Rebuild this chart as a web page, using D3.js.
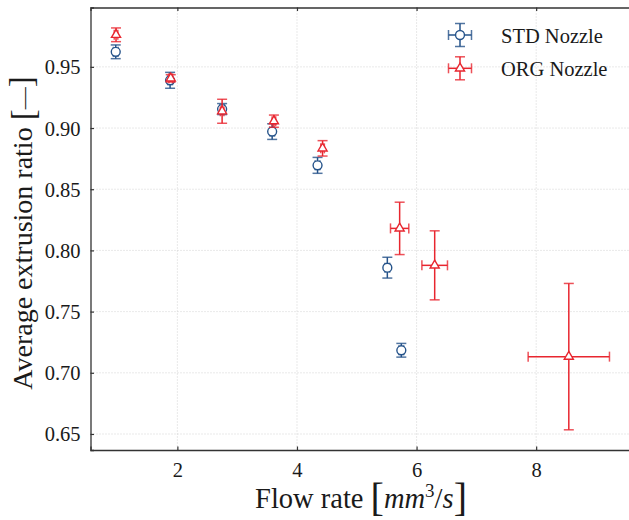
<!DOCTYPE html>
<html>
<head>
<meta charset="utf-8">
<script src="https://cdn.jsdelivr.net/npm/d3@7"></script>
<style>
  html, body { margin: 0; padding: 0; background: #fff; }
  svg { display: block; }
  text { font-family: "Liberation Serif", "DejaVu Serif", serif; fill: #1a1a1a; }
</style>
</head>
<body>
<svg id="chart" width="629" height="520"></svg>
<script>
// ---- data ----
const stdX    = [0.969, 1.878, 2.748, 3.585, 4.344, 5.511, 5.745];
const stdY    = [0.9623, 0.939, 0.9155, 0.8971, 0.8695, 0.7859, 0.7184];
const stdXErr = [0.04, 0.04, 0.04, 0.04, 0.04, 0.04, 0.04];
const stdYErr = [0.0056, 0.0065, 0.0045, 0.0064, 0.0065, 0.0085, 0.0056];

const orgX    = [0.974, 1.889, 2.748, 3.614, 4.428, 5.717, 6.303, 8.546];
const orgY    = [0.9762, 0.9406, 0.9137, 0.9056, 0.8834, 0.818, 0.7878, 0.7132];
const orgXErr = [0.03, 0.03, 0.03, 0.03, 0.03, 0.153, 0.214, 0.68];
const orgYErr = [0.0056, 0.003, 0.0098, 0.005, 0.0063, 0.0214, 0.0282, 0.0598];

const xTicks = [2, 4, 6, 8];
const yTicks = [0.65, 0.70, 0.75, 0.80, 0.85, 0.90, 0.95];
const seriesNames = ["STD Nozzle", "ORG Nozzle"];

// ---- layout ----
const svg = d3.select("#chart");
const L = 90.5, R = 631, T = 7.5, B = 450;
const x = d3.scaleLinear().domain([0.547, 9.586]).range([L, R]);
const y = d3.scaleLinear().domain([0.6369, 0.9985]).range([B, T]);

const blue = "#25538a", red = "#e8262f";
const serif = "'Liberation Serif', 'DejaVu Serif', serif";

// grid
const grid = svg.append("g");
grid.selectAll("line.gx").data(xTicks).join("line")
  .attr("x1", d => x(d)).attr("x2", d => x(d)).attr("y1", T).attr("y2", B)
  .attr("stroke", "#c8c8c8").attr("stroke-width", 0.8).attr("stroke-dasharray", "1,2");
grid.selectAll("line.gy").data(yTicks).join("line")
  .attr("y1", d => y(d)).attr("y2", d => y(d)).attr("x1", L).attr("x2", R)
  .attr("stroke", "#c8c8c8").attr("stroke-width", 0.8).attr("stroke-dasharray", "1,2");

// axes (ticks inward)
const fmt = d3.format(".2f");
const axB = svg.append("g").attr("transform", `translate(0,${B})`)
  .call(d3.axisBottom(x).tickValues(xTicks).tickSize(-3.5).tickPadding(12).tickFormat(d3.format("d")));
const axT = svg.append("g").attr("transform", `translate(0,${T})`)
  .call(d3.axisTop(x).tickValues(xTicks).tickSize(-3.5).tickFormat(""));
const axL = svg.append("g").attr("transform", `translate(${L},0)`)
  .call(d3.axisLeft(y).tickValues(yTicks).tickSize(-3.5).tickPadding(10).tickFormat(fmt));
[axB, axT, axL].forEach(a => {
  a.attr("font-family", serif).attr("font-size", 20.5);
  a.select(".domain").attr("stroke", "#333").attr("stroke-width", 1.3);
  a.selectAll(".tick line").attr("stroke", "#333").attr("stroke-width", 1.2);
  a.selectAll(".tick text").style("font-family", serif)
    .style("font-size", "20.5px").attr("fill", "#1a1a1a");
});
axB.selectAll(".tick text").attr("dy", "0.71em");
axL.selectAll(".tick text").attr("dy", "0.34em");

// error bars + markers
function drawSeries(xs, ys, xe, ye, color, symbol, size) {
  const g = svg.append("g");
  const cap = 5;
  xs.forEach((xv, i) => {
    const cx = x(xv), cy = y(ys[i]);
    const x0 = x(xv - xe[i]), x1 = x(xv + xe[i]);
    const y0 = y(ys[i] - ye[i]), y1 = y(ys[i] + ye[i]);
    g.append("line").attr("x1", cx).attr("x2", cx).attr("y1", y0).attr("y2", y1)
      .attr("stroke", color).attr("stroke-width", 1.5);
    g.append("line").attr("x1", x0).attr("x2", x1).attr("y1", cy).attr("y2", cy)
      .attr("stroke", color).attr("stroke-width", 1.5);
    [y0, y1].forEach(yy => g.append("line").attr("x1", cx - cap).attr("x2", cx + cap)
      .attr("y1", yy).attr("y2", yy).attr("stroke", color).attr("stroke-width", 1.5).attr("stroke-opacity", 0.8));
    [x0, x1].forEach(xx => g.append("line").attr("x1", xx).attr("x2", xx)
      .attr("y1", cy - cap).attr("y2", cy + cap).attr("stroke", color).attr("stroke-width", 1.5).attr("stroke-opacity", 0.8));
  });
  g.selectAll("path.m").data(xs).join("path")
    .attr("transform", (d, i) => `translate(${x(d)},${y(ys[i])})`)
    .attr("d", d3.symbol().type(symbol).size(size))
    .attr("fill", "#fff").attr("stroke", color).attr("stroke-width", 1.4);
}
drawSeries(stdX, stdY, stdXErr, stdYErr, blue, d3.symbolCircle, 62);
drawSeries(orgX, orgY, orgXErr, orgYErr, red, d3.symbolTriangle, 36);

// legend
const leg = svg.append("g");
const legItems = [
  { name: seriesNames[0], color: blue, sym: d3.symbolCircle, size: 62, ly: 35 },
  { name: seriesNames[1], color: red, sym: d3.symbolTriangle, size: 36, ly: 68.3 }
];
legItems.forEach(it => {
  const cx = 460, cy = it.ly, h = 11.5, cap = 5;
  leg.append("line").attr("x1", cx - h).attr("x2", cx + h).attr("y1", cy).attr("y2", cy)
    .attr("stroke", it.color).attr("stroke-width", 1.5);
  leg.append("line").attr("x1", cx).attr("x2", cx).attr("y1", cy - h).attr("y2", cy + h)
    .attr("stroke", it.color).attr("stroke-width", 1.5);
  [cx - h, cx + h].forEach(xx => leg.append("line").attr("x1", xx).attr("x2", xx)
    .attr("y1", cy - cap).attr("y2", cy + cap).attr("stroke", it.color).attr("stroke-width", 1.5).attr("stroke-opacity", 0.8));
  [cy - h, cy + h].forEach(yy => leg.append("line").attr("x1", cx - cap).attr("x2", cx + cap)
    .attr("y1", yy).attr("y2", yy).attr("stroke", it.color).attr("stroke-width", 1.5).attr("stroke-opacity", 0.8));
  leg.append("path").attr("transform", `translate(${cx},${cy})`)
    .attr("d", d3.symbol().type(it.sym).size(it.size))
    .attr("fill", "#fff").attr("stroke", it.color).attr("stroke-width", 1.4);
  leg.append("text").attr("x", 501).attr("y", cy + 7.5)
    .style("font-size", "20.5px").text(it.name);
});

// axis titles
const xl = svg.append("text").attr("x", 361).attr("y", 508)
  .attr("text-anchor", "middle").style("font-size", "28.5px");
xl.append("tspan").text("Flow rate ");
xl.append("tspan").style("font-size", "40px").attr("dy", "3").text("[");
xl.append("tspan").style("font-style", "italic").attr("dy", "-3").text("mm");
xl.append("tspan").style("font-size", "19px").attr("dy", "-11").text("3");
xl.append("tspan").attr("dy", "11").text("/");
xl.append("tspan").style("font-style", "italic").text("s");
xl.append("tspan").style("font-size", "40px").attr("dy", "3").text("]");

const yl = svg.append("text").attr("transform", "translate(32,233) rotate(-90)")
  .attr("text-anchor", "middle").style("font-size", "28px");
yl.append("tspan").text("Average extrusion ratio ");
yl.append("tspan").style("font-size", "33px").attr("dy", "2").text("[");
yl.append("tspan").style("font-size", "22px").attr("dy", "-3").text("—");
yl.append("tspan").style("font-size", "33px").attr("dy", "1").text("]");
</script>
</body>
</html>
